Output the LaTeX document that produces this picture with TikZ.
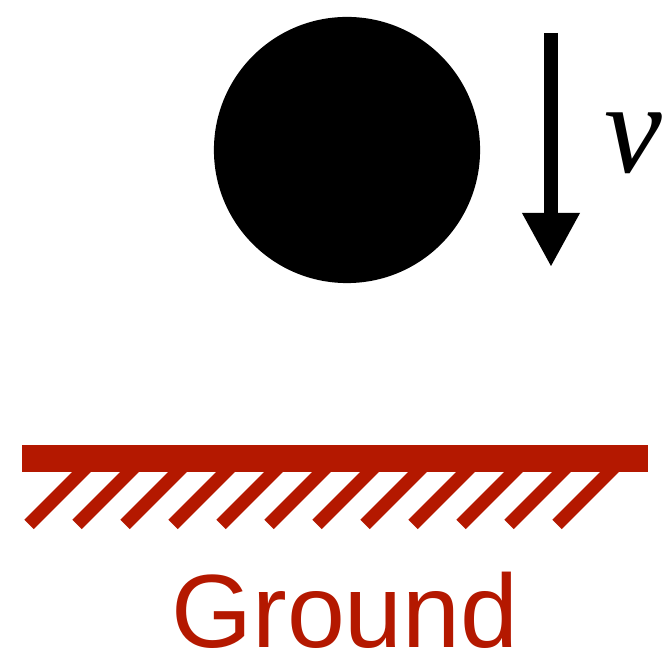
\documentclass[tikz,border=0pt]{standalone}
\usepackage{fontspec}
\setmainfont{Liberation Serif}
\newfontfamily\groundfont{Liberation Sans}
\usetikzlibrary{arrows.meta}
\definecolor{groundred}{HTML}{B41800}
\tikzset{
  ball/.style={circle,fill=black,minimum size=2.66cm,inner sep=0pt},
  velarrow/.style={-{Triangle[length=15.4pt,width=15.4pt]},line width=3.7pt},
  floorbar/.style={rectangle,fill=groundred,minimum width=6.26cm,minimum height=0.27cm,inner sep=0pt},
  hatchline/.style={draw=groundred,line width=3.8pt},
  vlabel/.style={anchor=base,inner sep=0pt,font=\fontsize{37pt}{38pt}\selectfont\itshape},
  groundtext/.style={anchor=base,inner sep=0pt,text=groundred,font=\groundfont\fontsize{29.6pt}{30pt}\selectfont}
}
\begin{document}
\begin{tikzpicture}[x=0.01cm,y=-0.01cm]
    \useasboundingbox (0,0) rectangle (666,655);
    \node[ball] (ball) at (347,150) {};
    \coordinate (vtail) at (551,33);
    \coordinate (vhead) at (551,267);
    \draw[velarrow] (vtail) -- (vhead);
    \node[vlabel] (v) at (633,173) {v};
    % ground with hatching
    \foreach \i in {0,...,11}
      \draw[hatchline] ({89.5+48*\i},464) -- ++(-60.5,60.5);
    \node[floorbar] (floor) at (335,458.5) {};
    \node[groundtext] (ground) at (345,648) {Ground};
\end{tikzpicture}
\end{document}
